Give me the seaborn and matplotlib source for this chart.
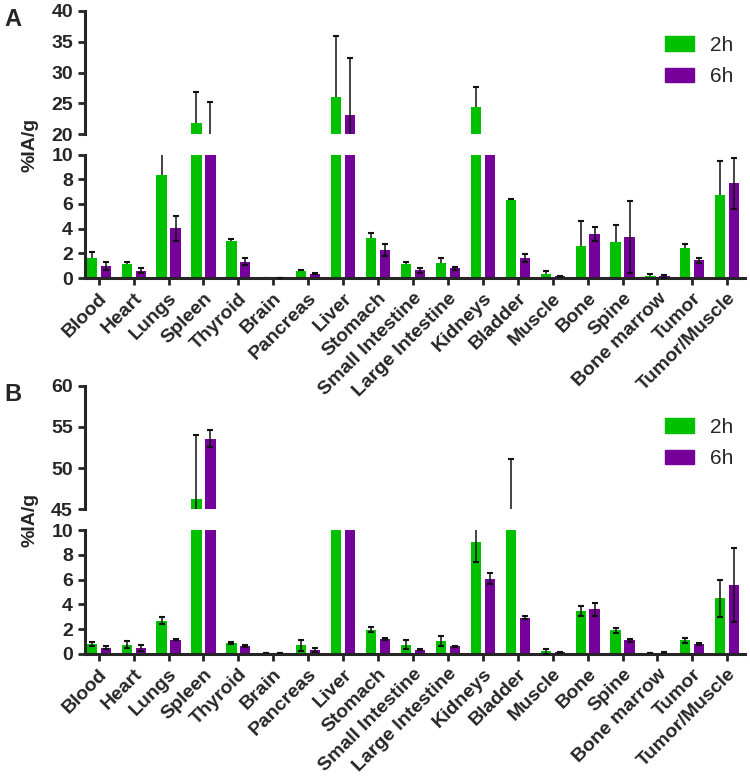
import pandas as pd
import numpy as np
import matplotlib
matplotlib.use("Agg")
import matplotlib.pyplot as plt
import matplotlib.patches as mpatches
import seaborn as sns

# organ list and biodistribution values (%IA/g)
organs = ["Blood", "Heart", "Lungs", "Spleen", "Thyroid", "Brain", "Pancreas", "Liver",
          "Stomach", "Small Intestine", "Large Intestine", "Kidneys", "Bladder", "Muscle",
          "Bone", "Spine", "Bone marrow", "Tumor", "Tumor/Muscle"]

A_2h = [1.6, 1.13, 8.36, 21.8, 3.01, 0.02, 0.54, 26.0, 3.23, 1.11, 1.24, 24.5, 6.35, 0.35,
        2.59, 2.95, 0.14, 2.43, 6.73]
A_2h_err = [0.5, 0.21, 2.0, 5.1, 0.14, 0.0, 0.08, 9.86, 0.45, 0.19, 0.41, 3.2, 0.05, 0.19,
            2.06, 1.35, 0.21, 0.33, 2.73]
A_6h = [0.94, 0.59, 4.03, 18.0, 1.34, 0.01, 0.35, 23.06, 2.28, 0.62, 0.78, 14.0, 1.65, 0.14,
        3.59, 3.32, 0.14, 1.43, 7.68]
A_6h_err = [0.32, 0.21, 1.0, 7.3, 0.27, 0.0, 0.05, 9.3, 0.5, 0.22, 0.14, 1.5, 0.32, 0.05,
            0.55, 2.92, 0.13, 0.22, 2.05]

B_2h = [0.8, 0.72, 2.68, 46.3, 0.88, 0.02, 0.67, 25.0, 1.96, 0.73, 1.03, 9.05, 32.0, 0.19,
        3.46, 1.89, 0.05, 1.08, 4.49]
B_2h_err = [0.17, 0.27, 0.3, 7.77, 0.09, 0.0, 0.48, 3.0, 0.18, 0.35, 0.43, 1.6, 19.1, 0.19,
            0.4, 0.19, 0.02, 0.22, 1.5]
B_6h = [0.48, 0.45, 1.15, 53.58, 0.62, 0.08, 0.3, 20.0, 1.2, 0.32, 0.6, 6.08, 2.92, 0.11,
        3.59, 1.08, 0.08, 0.81, 5.59]
B_6h_err = [0.11, 0.25, 0.08, 1.0, 0.08, 0.0, 0.13, 3.0, 0.08, 0.03, 0.02, 0.46, 0.1, 0.05,
            0.55, 0.1, 0.02, 0.08, 3.0]

times = ["2h", "6h"]
colors = ["#00c000", "#75009a"]

sns.set_style("ticks")
plt.rcParams["font.family"] = ["Liberation Sans", "DejaVu Sans"]

TICK_FS = 14


def make_df(v2, v6):
    return pd.DataFrame({"organ": organs * 2,
                         "time": ["2h"] * len(organs) + ["6h"] * len(organs),
                         "value": list(v2) + list(v6)})


def draw_bars(ax, df, errs, green_behind):
    sns.barplot(data=df, x="organ", y="value", hue="time", hue_order=times, order=organs,
                palette=colors, saturation=1, gap=0.27, errorbar=None, legend=False,
                linewidth=0, ax=ax)
    bar_sets = list(ax.containers)[:2]
    for i, cont in enumerate(bar_sets):
        xs = [b.get_x() + b.get_width() / 2 for b in cont]
        ys = [b.get_height() for b in cont]
        z = 0.5 if (i == 0 and green_behind) else 3
        ax.errorbar(xs, ys, yerr=errs[i], fmt="none", ecolor="#111111", elinewidth=1.1,
                    capsize=2.5, capthick=1.5, zorder=z)
    ax.set_xlim(-0.4, 18.5)
    ax.set_xlabel("")
    ax.set_ylabel("")
    ax.patch.set_visible(False)  # transparent, so panel A labels are not covered
    ax.tick_params(axis="both", width=2, length=5, labelsize=TICK_FS)
    for s in ["top", "right"]:
        ax.spines[s].set_visible(False)
    for s in ["left", "bottom"]:
        ax.spines[s].set_linewidth(2.2)


def panel(fig, bottom_low, bottom_up, v2, e2, v6, e6, upper_lim, upper_ticks, green_behind,
          letter, letter_y, legend_y):
    df = make_df(v2, v6)
    left, width, h = 0.113, 0.88, 0.158
    ax_up = fig.add_axes([left, bottom_up, width, h])
    ax_lo = fig.add_axes([left, bottom_low, width, h])

    draw_bars(ax_up, df, [e2, e6], green_behind)
    ax_up.set_ylim(*upper_lim)
    ax_up.set_yticks(upper_ticks)
    ax_up.set_yticklabels([str(t) for t in upper_ticks], fontweight="bold", fontsize=TICK_FS)
    ax_up.spines["bottom"].set_visible(False)
    ax_up.tick_params(axis="x", bottom=False, labelbottom=False)

    draw_bars(ax_lo, df, [e2, e6], green_behind)
    ax_lo.set_ylim(0, 10)
    ax_lo.set_yticks([0, 2, 4, 6, 8, 10])
    ax_lo.set_yticklabels([str(t) for t in [0, 2, 4, 6, 8, 10]], fontweight="bold",
                          fontsize=TICK_FS)
    ax_lo.set_xticks(range(len(organs)))
    ax_lo.set_xticklabels(organs, rotation=45, ha="right", rotation_mode="anchor",
                          fontsize=TICK_FS, fontweight="bold")

    # y label centred on the axis break
    fig.text(0.04, (bottom_low + h + bottom_up) / 2, "%IA/g", rotation=90, ha="center",
             va="center", fontsize=14, fontweight="bold")
    fig.text(0.006, letter_y, letter, fontsize=17, fontweight="bold", va="top")

    handles = [mpatches.Patch(color=c, label=t) for c, t in zip(colors, times)]
    fig.legend(handles=handles, loc="upper left", bbox_to_anchor=(0.886, legend_y),
               frameon=False, fontsize=15, handlelength=1.4, handleheight=0.7,
               borderpad=0, borderaxespad=0, handletextpad=0.8, labelspacing=0.6)


fig = plt.figure(figsize=(7.5, 7.81), dpi=100)

panel(fig, 0.644, 0.828, A_2h, A_2h_err, A_6h, A_6h_err, (20, 40), [20, 25, 30, 35, 40],
      True, "A", 0.99, 0.954)
panel(fig, 0.163, 0.348, B_2h, B_2h_err, B_6h, B_6h_err, (45, 60), [45, 50, 55, 60],
      False, "B", 0.51, 0.465)

fig.savefig("out.png", dpi=100)
plt.close(fig)
